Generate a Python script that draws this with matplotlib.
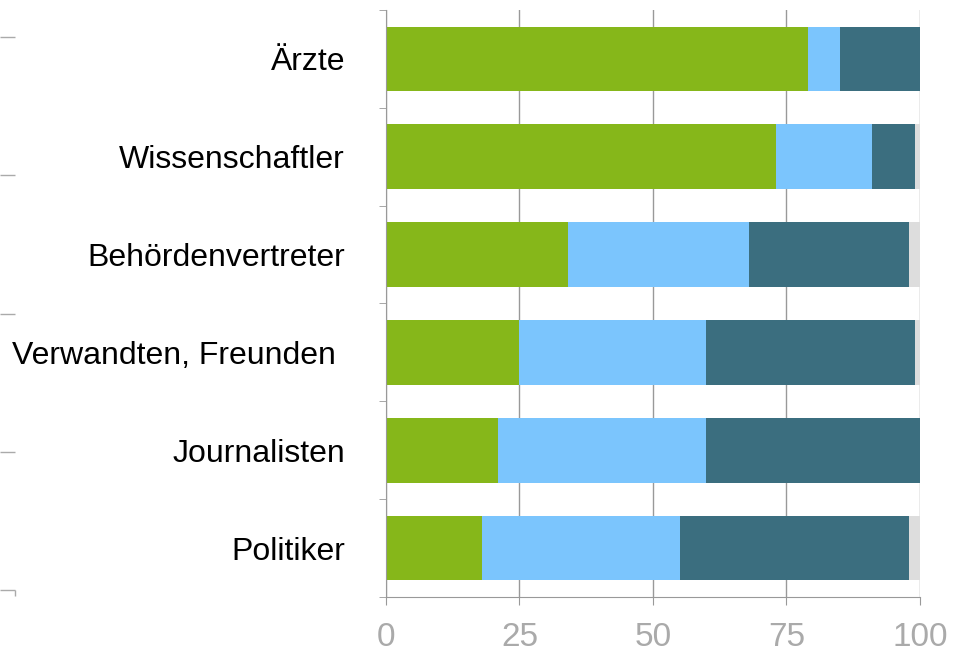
import matplotlib.pyplot as plt
import numpy as np

categories = ["Ärzte", "Wissenschaftler", "Behördenvertreter",
              "Verwandten, Freunden ", "Journalisten", "Politiker"]
green = [79, 73, 34, 25, 21, 18]
light_blue = [6, 18, 34, 35, 39, 37]
dark = [15, 8, 30, 39, 40, 43]
grey = [0, 1, 2, 1, 0, 2]
xticks = [0, 25, 50, 75, 100]

colors = ["#86b71a", "#7bc5fd", "#3b6e7f", "#dddddd"]

plt.rcParams["font.family"] = ["Liberation Sans", "DejaVu Sans"]

fig = plt.figure(figsize=(9.63, 6.48), dpi=100)

# stray tick marks on the far left
ax2 = fig.add_axes([0.0156, 0.0895, 0.01, 0.8534])
ax2.set_ylim(0, 4)
ax2.set_xlim(0, 1)
ax2.set_yticks(range(5))
ax2.set_xticks([0])
ax2.set_yticklabels([])
ax2.set_xticklabels([])
ax2.tick_params(axis="y", length=11, color="#aaaaaa", width=1)
ax2.tick_params(axis="x", length=4, color="#aaaaaa", width=1)
for s in ax2.spines.values():
    s.set_visible(False)
ax2.patch.set_visible(False)

ax = fig.add_axes([0.4008, 0.0787, 0.5545, 0.9059])
y = np.arange(len(categories))
left = np.zeros(len(categories))
for vals, c in zip([green, light_blue, dark, grey], colors):
    ax.barh(y, vals, left=left, height=0.66, color=c, zorder=2)
    left += np.array(vals)

ax.set_xlim(0, 100)
ax.set_ylim(len(categories) - 0.5, -0.5)
ax.set_yticks(y)
ax.set_yticklabels(categories, fontsize=23)
ax.set_yticks(np.arange(-0.5, len(categories)), minor=True)
ax.tick_params(axis="y", which="major", length=0, pad=29.5)
ax.tick_params(axis="y", which="minor", length=5, color="#999999")
ax.set_xticks(xticks)
ax.set_xticklabels([str(v) for v in xticks], fontsize=24, color="#aaaaaa")
ax.tick_params(axis="x", length=6, color="#999999", pad=12)
ax.grid(axis="x", color="#999999", linewidth=1, zorder=0)
ax.set_axisbelow(True)
for side in ["top", "right"]:
    ax.spines[side].set_visible(False)
ax.spines["left"].set_color("#999999")
ax.spines["bottom"].set_color("#999999")

plt.savefig("out.png", dpi=100)
